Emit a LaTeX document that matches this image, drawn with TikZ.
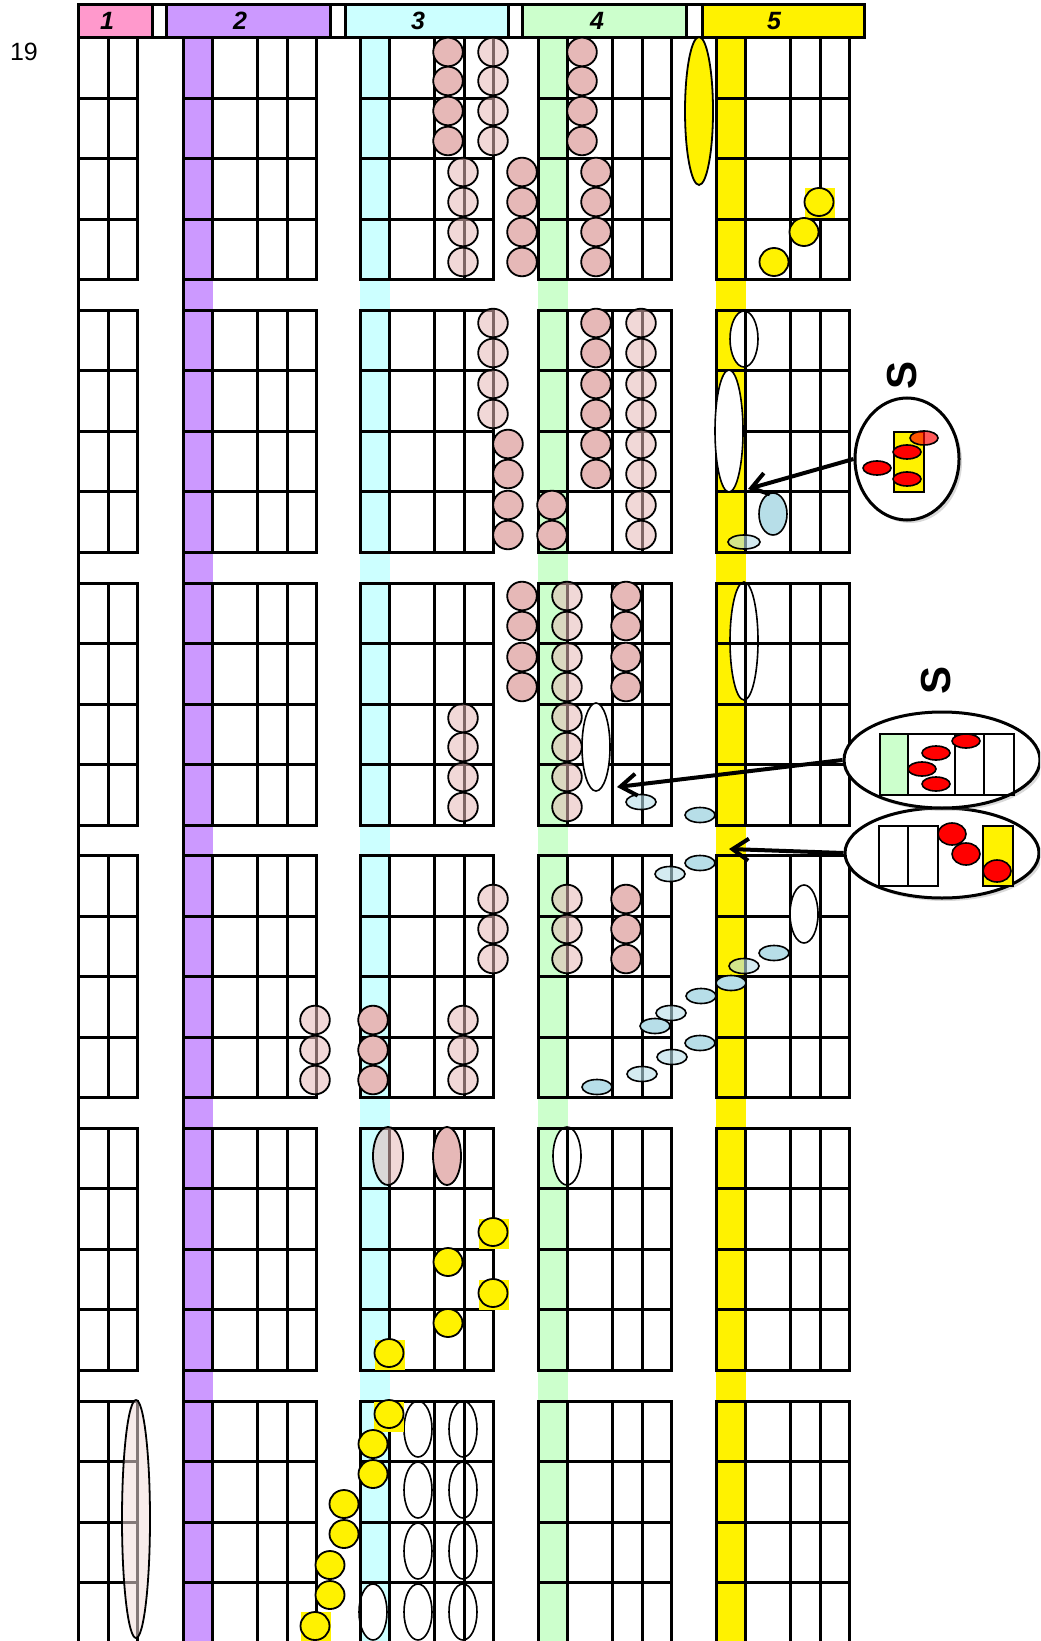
\documentclass[tikz,border=0pt]{standalone}
\usepackage{fontspec}
\setmainfont{Liberation Sans}
\usepackage{tikz}
\usetikzlibrary{arrows.meta,shapes.geometric,shadows}
\definecolor{headpink}{HTML}{FF99CC}
\definecolor{lilac}{HTML}{CC99FF}
\definecolor{icecyan}{HTML}{CCFFFF}
\definecolor{mint}{HTML}{CCFFCC}
\definecolor{beadpink}{HTML}{E6B8B7}
\definecolor{palepink}{HTML}{F2DCDB}
\definecolor{dropblue}{HTML}{B7DEE8}

\begin{document}
\begin{tikzpicture}[x=0.5pt, y=-0.5pt,
  grid/.style={line width=1.5pt, line cap=rect},
  bead/.style={draw, line width=0.9pt, fill=beadpink},
  ghost/.style={bead, fill opacity=0.55},
  ball/.style={draw, line width=0.9pt, fill=yellow},
  lit/.style={fill=yellow},
  drop/.style={draw, line width=0.8pt, fill=dropblue},
  dropghost/.style={drop, fill opacity=0.6},
  hollow/.style={draw, line width=0.8pt, fill=white},
  redbead/.style={draw, line width=0.8pt, fill=red},
  inner/.style={line width=1pt},
  callout/.style={ellipse, draw, line width=1.5pt, fill=white, inner sep=0pt,
    drop shadow={opacity=0.3, shadow xshift=1.5pt, shadow yshift=-1.5pt}},
  pointer/.style={-{Straight Barb[length=8pt, width=11pt]}, line width=2pt},
  bar/.style={font=\bfseries\itshape\fontsize{12.5}{14}\selectfont},
  tag/.style={rotate=90, font=\bfseries\fontsize{21}{24}\selectfont}]
\useasboundingbox (0,0) rectangle (1040,1641);
\clip (0,0) rectangle (1040,1641);

\foreach \x/\c in {183/lilac, 360/icecyan, 538/mint, 716/yellow}
  \fill[\c] (\x,38) rectangle (\x+29.5,1641);

\foreach \x/\y/\ry in {744/339/28, 744/641/59, 567/1156/29, 373/1612/28}
  \draw[hollow] (\x,\y) ellipse [x radius=14, y radius=\ry];
\foreach \x in {418,463}
  \foreach \y in {1429,1490,1551,1612}
    \draw[hollow] (\x,\y) ellipse [x radius=14, y radius=28];

\foreach \t in {38,310.5,583,855.5,1128,1401} {
  \foreach \x in {108,137} \draw[grid] (\x,\t) -- (\x,\t+242);
  \foreach \r in {0,...,4} \draw[grid] (78,\t+\r*60.5) -- (137,\t+\r*60.5);
  \foreach \g in {183,360,538,716} {
    \foreach \o in {29.5,74,104,133} \draw[grid] (\g+\o,\t) -- (\g+\o,\t+242);
    \foreach \r in {0,...,4} \draw[grid] (\g,\t+\r*60.5) -- (\g+133,\t+\r*60.5);
  }
  \foreach \g in {360,538,716} \draw[grid] (\g,\t) -- (\g,\t+242);
}
\draw[grid] (78,38) -- (78,1645);
\draw[grid] (183,38) -- (183,1645);

\foreach \a/\b/\c in {78/152/headpink, 152/166/white, 166/330/lilac, 330/345/white,
    345/508/icecyan, 508/522/white, 522/686/mint, 686/702/white, 702/864/yellow}
  \draw[grid, fill=\c] (\a,5) rectangle (\b,38);
\foreach \x/\n in {107/1, 240/2, 418/3, 597/4, 774/5}
  \node[bar] (head\n) at (\x,21) {\n};
\node[font=\fontsize{12.5}{14}\selectfont] (page) at (24,52) {19};

\foreach \x/\y in {820/203.5, 494/1234, 494/1295, 390/1354.5, 389/1417, 316/1627}
  \fill[lit] (\x-15,\y-15) rectangle (\x+15,\y+15);

\foreach \x/\ys in {448/{52,81,111,141}, 522/{172,202,232,262,596,626,657,687},
    582/{52,81,111,141}, 596/{172,202,232,262,323,353,384,414,444,474},
    508/{444,474,505,535}, 552/{505,535}, 626/{596,626,657,687,899,929,959},
    373/{1020,1050,1080}}
  \foreach \y in \ys \draw[bead] (\x,\y) ellipse [x radius=14.8, y radius=14.3];
\foreach \x/\ys in {493/{52,81,111,141,323,353,384,414,899,929,959},
    463/{172,202,232,262,718,747,777,807,1020,1050,1080},
    641/{323,353,384,414,444,474,505,535},
    567/{596,626,657,687,717,747,777,807,899,929,959}, 315/{1020,1050,1080}}
  \foreach \y in \ys \draw[ghost] (\x,\y) ellipse [x radius=14.8, y radius=14.3];
\draw[ghost] (388,1156) ellipse [x radius=15, y radius=29];
\draw[bead] (447,1156) ellipse [x radius=14, y radius=29];
\draw[ghost, fill=palepink] (136,1519) ellipse [x radius=14, y radius=119];

\draw[ball] (699,111) ellipse [x radius=14, y radius=74];
\foreach \x/\y in {819/202, 804/232, 774/262, 493/1232, 448/1262, 493/1293, 448/1323,
    389/1353, 389/1414, 373/1444, 373/1474, 344/1504, 344/1534, 330/1565, 330/1595, 315/1626}
  \draw[ball] (\x,\y) ellipse [x radius=14.5, y radius=14];

\draw[drop] (773,514) ellipse [x radius=14, y radius=21];
\draw[dropghost] (744,542) ellipse [x radius=16, y radius=7];
\foreach \x/\y in {700/815, 700/863, 774/953, 731/983, 701/996, 655/1026, 700/1043, 597/1087}
  \draw[drop] (\x,\y) ellipse [x radius=15, y radius=7.5];
\foreach \x/\y in {641/802, 670/874, 744/966, 671/1013, 672/1057, 642/1074}
  \draw[dropghost] (\x,\y) ellipse [x radius=15, y radius=7.5];

\foreach \x/\y/\ry in {729/431/61, 596/747/44, 804/914/29}
  \draw[hollow] (\x,\y) ellipse [x radius=14, y radius=\ry];

\node[callout, minimum width=52pt, minimum height=61pt] (zoomA) at (907,459) {};
\node[callout, minimum width=97pt, minimum height=45pt] (zoomC) at (942,853) {};
\node[callout, minimum width=98pt, minimum height=48pt] (zoomB) at (942,760) {};

\draw[inner, fill=yellow] (894,432) rectangle (924,492);
\foreach \x/\y in {907/452, 877/468, 907/479}
  \draw[redbead] (\x,\y) ellipse [x radius=14, y radius=7];
\draw[redbead, fill opacity=0.65] (924,438) ellipse [x radius=14, y radius=7];

\fill[mint] (880,734) rectangle (908,795);
\draw[inner] (880,734) rectangle (1014,795);
\foreach \x in {908,955,984} \draw[inner] (\x,734) -- (\x,795);
\foreach \x/\y in {966/741, 936/753, 922/769, 936/784}
  \draw[redbead] (\x,\y) ellipse [x radius=14, y radius=7];

\draw[inner] (879,826) rectangle (938,886);
\draw[inner] (908,826) -- (908,886);
\draw[inner, fill=yellow] (983,826) rectangle (1013,886);
\foreach \x/\y in {952/834, 966/854, 997/871}
  \draw[redbead] (\x,\y) ellipse [x radius=14, y radius=11];

\coordinate (tipA) at (748,489);
\coordinate (tipB) at (617,787);
\coordinate (tipC) at (729,849);
\draw[pointer] (zoomA.west) -- (tipA);
\draw[pointer] (zoomB.west) -- (tipB);
\draw[pointer] (zoomC.west) -- (tipC);

\node[tag] (tagA) at (902,375) {S};
\node[tag] (tagB) at (936,680) {S};
\end{tikzpicture}
\end{document}
